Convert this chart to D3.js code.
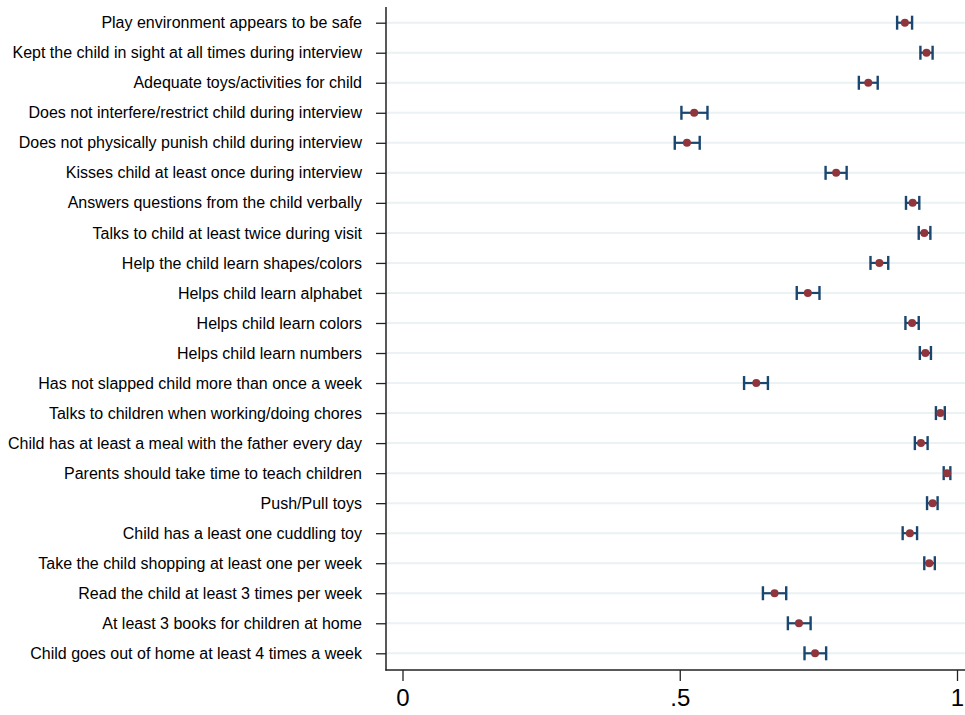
<!DOCTYPE html>
<html>
<head>
<meta charset="utf-8">
<script src="https://cdn.jsdelivr.net/npm/d3@7"></script>
<style>
  html, body { margin: 0; padding: 0; background: #fff; }
  svg { display: block; }
  text { font-family: "Liberation Sans", Arial, Helvetica, sans-serif; fill: #000; }
</style>
</head>
<body>
<svg id="chart" width="965" height="715"></svg>
<script>
const categories = [
  "Play environment appears to be safe",
  "Kept the child in sight at all times during interview",
  "Adequate toys/activities for child",
  "Does not interfere/restrict child during interview",
  "Does not physically punish child during interview",
  "Kisses child at least once during interview",
  "Answers questions from the child verbally",
  "Talks to child at least twice during visit",
  "Help the child learn shapes/colors",
  "Helps child learn alphabet",
  "Helps child learn colors",
  "Helps child learn numbers",
  "Has not slapped child more than once a week",
  "Talks to children when working/doing chores",
  "Child has at least a meal with the father every day",
  "Parents should take time to teach children",
  "Push/Pull toys",
  "Child has a least one cuddling toy",
  "Take the child shopping at least one per week",
  "Read the child at least 3 times per week",
  "At least 3 books for children at home",
  "Child goes out of home at least 4 times a week"
];
const means = [0.906, 0.945, 0.840, 0.526, 0.513, 0.782, 0.920, 0.941, 0.860, 0.731, 0.919, 0.943,
               0.638, 0.970, 0.935, 0.982, 0.956, 0.915, 0.950, 0.671, 0.715, 0.744];
const lower = [0.892, 0.934, 0.823, 0.503, 0.491, 0.763, 0.908, 0.931, 0.844, 0.711, 0.907, 0.933,
               0.616, 0.962, 0.924, 0.976, 0.946, 0.902, 0.941, 0.650, 0.695, 0.725];
const upper = [0.919, 0.956, 0.857, 0.550, 0.536, 0.801, 0.932, 0.952, 0.876, 0.752, 0.931, 0.953,
               0.659, 0.978, 0.947, 0.988, 0.965, 0.928, 0.960, 0.692, 0.736, 0.764];
const xTicks = [0, 0.5, 1];
const xTickLabels = ["0", ".5", "1"];

const rows = categories.map((c, i) => ({ cat: c, mean: means[i], lo: lower[i], hi: upper[i] }));

const svg = d3.select("#chart");
const W = 965;
const plotLeft = 386, plotTop = 7, plotBottom = 670;

const x = d3.scaleLinear().domain([0, 1]).range([402.5, 957]);
const y = d3.scalePoint().domain(categories).range([22.7, 653.3]);

const navy = "#1a476f", maroon = "#90353b";

// gridlines
svg.append("g").selectAll("line").data(categories).join("line")
  .attr("x1", plotLeft).attr("x2", W)
  .attr("y1", d => y(d)).attr("y2", d => y(d))
  .attr("stroke", "#eaf2f3").attr("stroke-width", 2);

// left axis
const yAxis = d3.axisLeft(y).tickSize(10).tickPadding(14).tickSizeOuter(0);
const gy = svg.append("g").attr("transform", `translate(${plotLeft},0)`).call(yAxis);
gy.select(".domain").remove();
gy.selectAll(".tick line").attr("stroke", "#222").attr("stroke-width", 1.3);
gy.selectAll(".tick text").style("font-size", "16px").style("font-family", '"Liberation Sans", Arial, sans-serif').attr("fill", "#000");

// bottom axis
const xAxis = d3.axisBottom(x).tickValues(xTicks)
  .tickFormat((d, i) => xTickLabels[i]).tickSize(11).tickPadding(8).tickSizeOuter(0);
const gx = svg.append("g").attr("transform", `translate(0,${plotBottom})`).call(xAxis);
gx.select(".domain").remove();
gx.selectAll(".tick line").attr("stroke", "#222").attr("stroke-width", 1.3);
gx.selectAll(".tick text").style("font-size", "24px").style("font-family", '"Liberation Sans", Arial, sans-serif').attr("fill", "#000");

// axis lines
svg.append("line").attr("x1", plotLeft).attr("x2", plotLeft).attr("y1", plotTop).attr("y2", plotBottom + 0.6)
  .attr("stroke", "#222").attr("stroke-width", 1.5);
svg.append("line").attr("x1", plotLeft - 0.7).attr("x2", W).attr("y1", plotBottom).attr("y2", plotBottom)
  .attr("stroke", "#222").attr("stroke-width", 1.5);

// error bars
const capH = 7;
const bars = svg.append("g");
bars.selectAll("line.ci").data(rows).join("line").attr("class", "ci")
  .attr("x1", d => x(d.lo)).attr("x2", d => x(d.hi))
  .attr("y1", d => y(d.cat)).attr("y2", d => y(d.cat))
  .attr("stroke", navy).attr("stroke-width", 2.2);
bars.selectAll("line.capl").data(rows).join("line").attr("class", "capl")
  .attr("x1", d => x(d.lo)).attr("x2", d => x(d.lo))
  .attr("y1", d => y(d.cat) - capH).attr("y2", d => y(d.cat) + capH)
  .attr("stroke", navy).attr("stroke-width", 2.4);
bars.selectAll("line.caph").data(rows).join("line").attr("class", "caph")
  .attr("x1", d => x(d.hi)).attr("x2", d => x(d.hi))
  .attr("y1", d => y(d.cat) - capH).attr("y2", d => y(d.cat) + capH)
  .attr("stroke", navy).attr("stroke-width", 2.4);

// points
svg.append("g").selectAll("circle").data(rows).join("circle")
  .attr("cx", d => x(d.mean)).attr("cy", d => y(d.cat)).attr("r", 4)
  .attr("fill", maroon);
</script>
</body>
</html>
